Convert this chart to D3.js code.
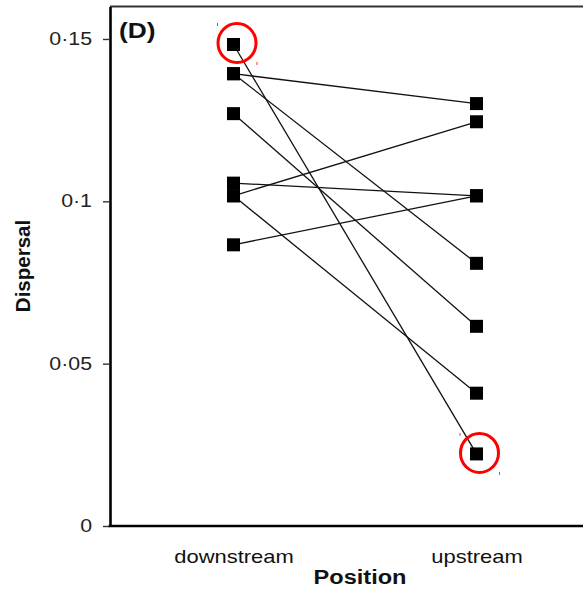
<!DOCTYPE html>
<html>
<head>
<meta charset="utf-8">
<script src="https://cdn.jsdelivr.net/npm/d3@7"></script>
<style>
  html, body { margin: 0; padding: 0; background: #fff; }
  svg { display: block; }
  text { font-family: "Liberation Sans", Arial, Helvetica, sans-serif; }
</style>
</head>
<body>
<svg id="chart" width="583" height="591"></svg>
<script>
// Paired dispersal values: each index is one downstream/upstream pair
const categories = ["downstream", "upstream"];
const downstreamValues = [0.1483, 0.1393, 0.1393, 0.1270, 0.1056, 0.1017, 0.1017, 0.0866];
const upstreamValues   = [0.0222, 0.1301, 0.0809, 0.0615, 0.1017, 0.1245, 0.0409, 0.1017];
const yTickValues = [0, 0.05, 0.1, 0.15];
const yTickLabels = ["0", "0·05", "0·1", "0·15"];
const highlightedPair = 0;   // pair ringed in red
const panelLabel = "(D)";
const xTitle = "Position";
const yTitle = "Dispersal";

const W = 583, H = 591;
const plot = { left: 110, right: 598, top: 6.5, bottom: 526 };
const textStretch = 1.22;

const svg = d3.select("#chart");

const x = d3.scalePoint()
  .domain(categories)
  .range([plot.left + 2, plot.right])
  .padding(0.5);

const y = d3.scaleLinear()
  .domain([0, 0.16])
  .range([plot.bottom, plot.top]);

// frame top edge
svg.append("line")
  .attr("x1", plot.left).attr("x2", W)
  .attr("y1", plot.top).attr("y2", plot.top)
  .attr("stroke", "#333").attr("stroke-width", 2);

// y axis
const yAxis = svg.append("g")
  .attr("transform", `translate(${plot.left},0)`)
  .call(d3.axisLeft(y)
    .tickValues(yTickValues)
    .tickFormat((d, i) => yTickLabels[i])
    .tickSize(7)
    .tickSizeOuter(0)
    .tickPadding(11));
yAxis.select(".domain").attr("stroke", "#000").attr("stroke-width", 2.6);
yAxis.selectAll(".tick line").attr("stroke", "#333").attr("stroke-width", 1.4);
yAxis.selectAll(".tick text")
  .attr("font-family", null)
  .attr("font-size", 17.5)
  .attr("fill", "#222")
  .attr("x", -18 / textStretch)
  .attr("transform", `scale(${textStretch},1)`);

// x axis
const xAxis = svg.append("g")
  .attr("transform", `translate(0,${plot.bottom})`)
  .call(d3.axisBottom(x).tickSize(0).tickPadding(24.5));
xAxis.select(".domain").remove();
xAxis.selectAll(".tick text")
  .attr("font-family", null)
  .attr("font-size", 18)
  .attr("fill", "#111")
  .attr("transform", `scale(${textStretch},1)`)
  .each(function () {
    // keep the label centred on its tick after the horizontal stretch
    const t = d3.select(this.parentNode).attr("transform");
    const tx = +/translate\(([-\d.]+)/.exec(t)[1];
    d3.select(this.parentNode).attr("transform", `translate(${tx},0)`);
    d3.select(this).attr("x", 0);
  });
svg.append("line")
  .attr("x1", plot.left - 1.3).attr("x2", W)
  .attr("y1", plot.bottom).attr("y2", plot.bottom)
  .attr("stroke", "#000").attr("stroke-width", 2.6);

// connecting lines
const pairs = downstreamValues.map((d, i) => ({ down: d, up: upstreamValues[i] }));
svg.append("g")
  .selectAll("line")
  .data(pairs)
  .join("line")
  .attr("x1", x("downstream")).attr("y1", d => y(d.down))
  .attr("x2", x("upstream")).attr("y2", d => y(d.up))
  .attr("stroke", "#111")
  .attr("stroke-width", 1.3);

// square markers
const pts = pairs.flatMap(d => [
  { cat: "downstream", v: d.down },
  { cat: "upstream", v: d.up }
]);
const s = 13;
svg.append("g")
  .selectAll("rect")
  .data(pts)
  .join("rect")
  .attr("x", d => x(d.cat) - s / 2)
  .attr("y", d => y(d.v) - s / 2)
  .attr("width", s).attr("height", s)
  .attr("fill", "#000");

// red rings around the highlighted pair
const hp = pairs[highlightedPair];
const rings = [
  { cx: x("downstream") + 3.5, cy: y(hp.down) - 1.5 },
  { cx: x("upstream") + 3, cy: y(hp.up) - 1 }
];
const ringG = svg.append("g");
ringG.selectAll("ellipse")
  .data(rings)
  .join("ellipse")
  .attr("cx", d => d.cx).attr("cy", d => d.cy)
  .attr("rx", 19).attr("ry", 19.5)
  .attr("fill", "none")
  .attr("stroke", "#f00")
  .attr("stroke-width", 3);
// small selection handles at the ring corners
ringG.selectAll("line.handle")
  .data(rings.flatMap(d => [
    { x: d.cx - 19.5, y: d.cy - 20 },
    { x: d.cx + 20, y: d.cy + 19 }
  ]))
  .join("line")
  .attr("class", "handle")
  .attr("x1", d => d.x).attr("x2", d => d.x)
  .attr("y1", d => d.y).attr("y2", d => d.y + 3)
  .attr("stroke", "#f33").attr("stroke-width", 1);

// panel letter
svg.append("text")
  .attr("transform", `translate(119,38) scale(${textStretch * 0.98},1)`)
  .attr("font-size", 22)
  .attr("font-weight", "bold")
  .attr("fill", "#111")
  .text(panelLabel);

// axis titles
svg.append("text")
  .attr("transform", `translate(360,584) scale(1.15,1)`)
  .attr("text-anchor", "middle")
  .attr("font-size", 20.5)
  .attr("font-weight", "bold")
  .attr("fill", "#111")
  .text(xTitle);

svg.append("text")
  .attr("transform", `translate(30,266) rotate(-90)`)
  .attr("text-anchor", "middle")
  .attr("font-size", 20.5)
  .attr("font-weight", "bold")
  .attr("fill", "#111")
  .text(yTitle);
</script>
</body>
</html>
